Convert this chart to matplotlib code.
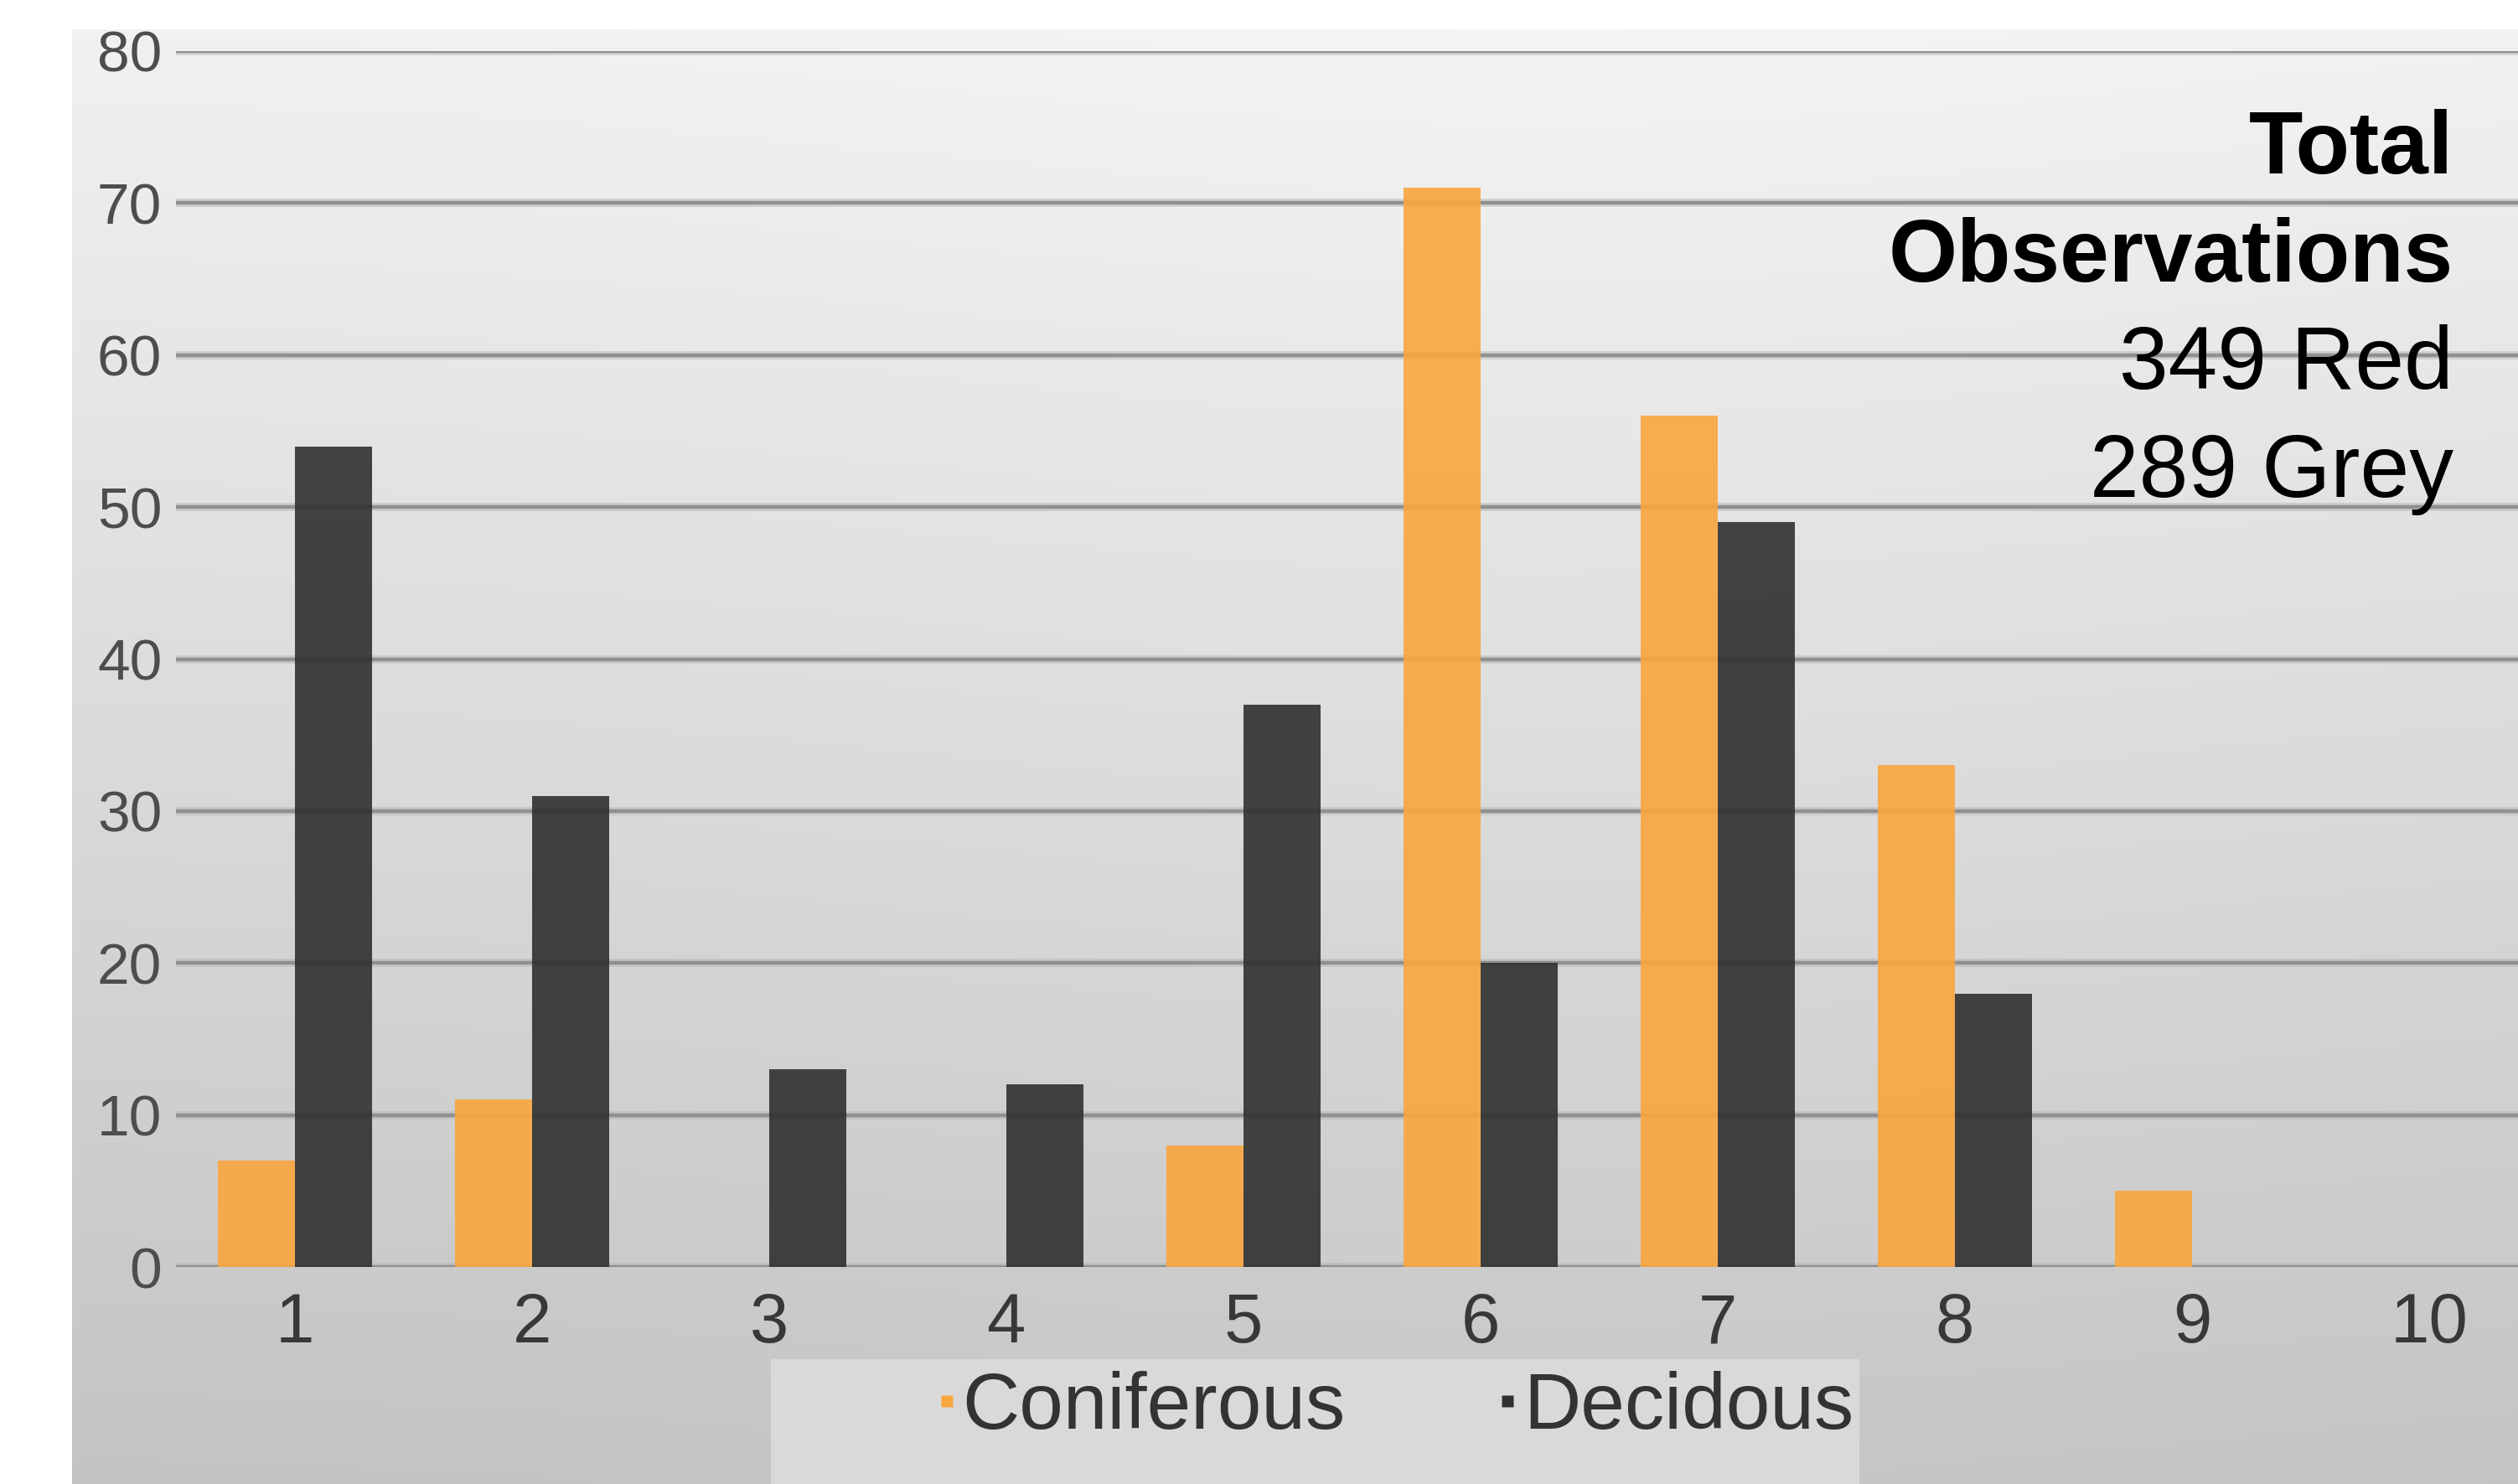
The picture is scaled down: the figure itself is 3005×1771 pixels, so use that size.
import numpy as np
import matplotlib
matplotlib.use("Agg")
import matplotlib.pyplot as plt
from matplotlib import font_manager
from matplotlib.lines import Line2D
from matplotlib.patches import Rectangle
import matplotlib.patheffects as pe

# ---- data ----
categories = [1, 2, 3, 4, 5, 6, 7, 8, 9, 10]
coniferous = [7, 11, 0, 0, 8, 71, 56, 33, 5, 0]
decidous = [54, 31, 13, 12, 37, 20, 49, 18, 0, 0]
series_names = ["Coniferous", "Decidous"]
y_ticks = [0, 10, 20, 30, 40, 50, 60, 70, 80]
note_title = ["Total", "Observations"]
note_counts = ["349 Red", "289 Grey"]

# ---- fonts ----
available = {f.name for f in font_manager.fontManager.ttflist}
narrow = "Liberation Sans Narrow" if "Liberation Sans Narrow" in available else "Liberation Sans"
plain = "Liberation Sans"

W, H = 3005, 1771
fig = plt.figure(figsize=(W / 100, H / 100), dpi=100)
fig.patch.set_facecolor("white")

# grey gradient panel behind the chart
bg = fig.add_axes([86 / W, 0, 1 - 86 / W, (H - 35) / H], zorder=-10)
ny, nx = 400, 300
vert = np.linspace(0.945, 0.765, ny)[:, None]
horiz = 0.012 * np.exp(-((np.linspace(-1, 1, nx) - 0.2) ** 2) / 0.5)[None, :]
shade = np.clip(vert + horiz, 0, 1)
bg.imshow(np.dstack([shade, shade, shade]), aspect="auto", extent=[0, 1, 0, 1])
bg.set_axis_off()

# lighter strip behind the legend
fig.patches.append(Rectangle((920 / W, 0), (2219 - 920) / W, (H - 1622) / H,
                             transform=fig.transFigure, facecolor="#d9d9d9",
                             edgecolor="none", zorder=-5))

# ---- main axes ----
ax = fig.add_axes([210 / W, (H - 1512) / H, 1 - 210 / W, (1512 - 61) / H])
ax.patch.set_alpha(0)
x = np.array(categories, dtype=float)
w = 0.325
ax.bar(x - w / 2, coniferous, width=w, color="#F9A63E", alpha=0.9,
       linewidth=0, zorder=2, label=series_names[0])
ax.bar(x + w / 2, decidous, width=w, color="#303030", alpha=0.9,
       linewidth=0, zorder=2, label=series_names[1])

ax.set_xlim(0.5, 10.375)
ax.set_ylim(0, 80)
ax.set_yticks(y_ticks)
ax.set_xticks(categories)
ax.set_xticklabels([str(c) for c in categories])
ax.tick_params(axis="y", length=0, pad=12, labelsize=50, labelcolor="#4d4d4d")
ax.tick_params(axis="x", length=0, pad=21, labelsize=60, labelcolor="#383838")
for lab in ax.get_xticklabels() + ax.get_yticklabels():
    lab.set_fontfamily(narrow)
for s in ax.spines.values():
    s.set_visible(False)

ax.yaxis.grid(True, color="#909090", linewidth=3.2, zorder=1)
ax.set_axisbelow(True)
for gl in ax.get_ygridlines():
    gl.set_path_effects([pe.Stroke(linewidth=7, foreground="#b4b4b4", alpha=0.5),
                         pe.Normal()])

# ---- legend ----
handles = [Line2D([], [], linestyle="none", marker="s", markersize=10,
                  markerfacecolor="#F9A63E", markeredgecolor="none"),
           Line2D([], [], linestyle="none", marker="s", markersize=10,
                  markerfacecolor="#303030", markeredgecolor="none")]
fig.legend(handles, series_names, loc="center", ncol=2,
           bbox_to_anchor=(1664 / W, (H - 1681) / H),
           frameon=False, handlelength=0.3, handletextpad=0.05,
           columnspacing=1.9, borderpad=0,
           prop={"family": narrow, "size": 68}, labelcolor="#333333")

# ---- note in the top right ----
right = 2928 / W
for txt, ypix in zip(note_title, [207, 336]):
    fig.text(right, (H - ypix) / H, txt, ha="right", va="baseline",
             fontsize=76, fontweight="bold", family=plain, color="black")
for txt, ypix in zip(note_counts, [464, 593]):
    fig.text(right, (H - ypix) / H, txt, ha="right", va="baseline",
             fontsize=76, family=plain, color="black")

fig.savefig("out.png", dpi=100)
